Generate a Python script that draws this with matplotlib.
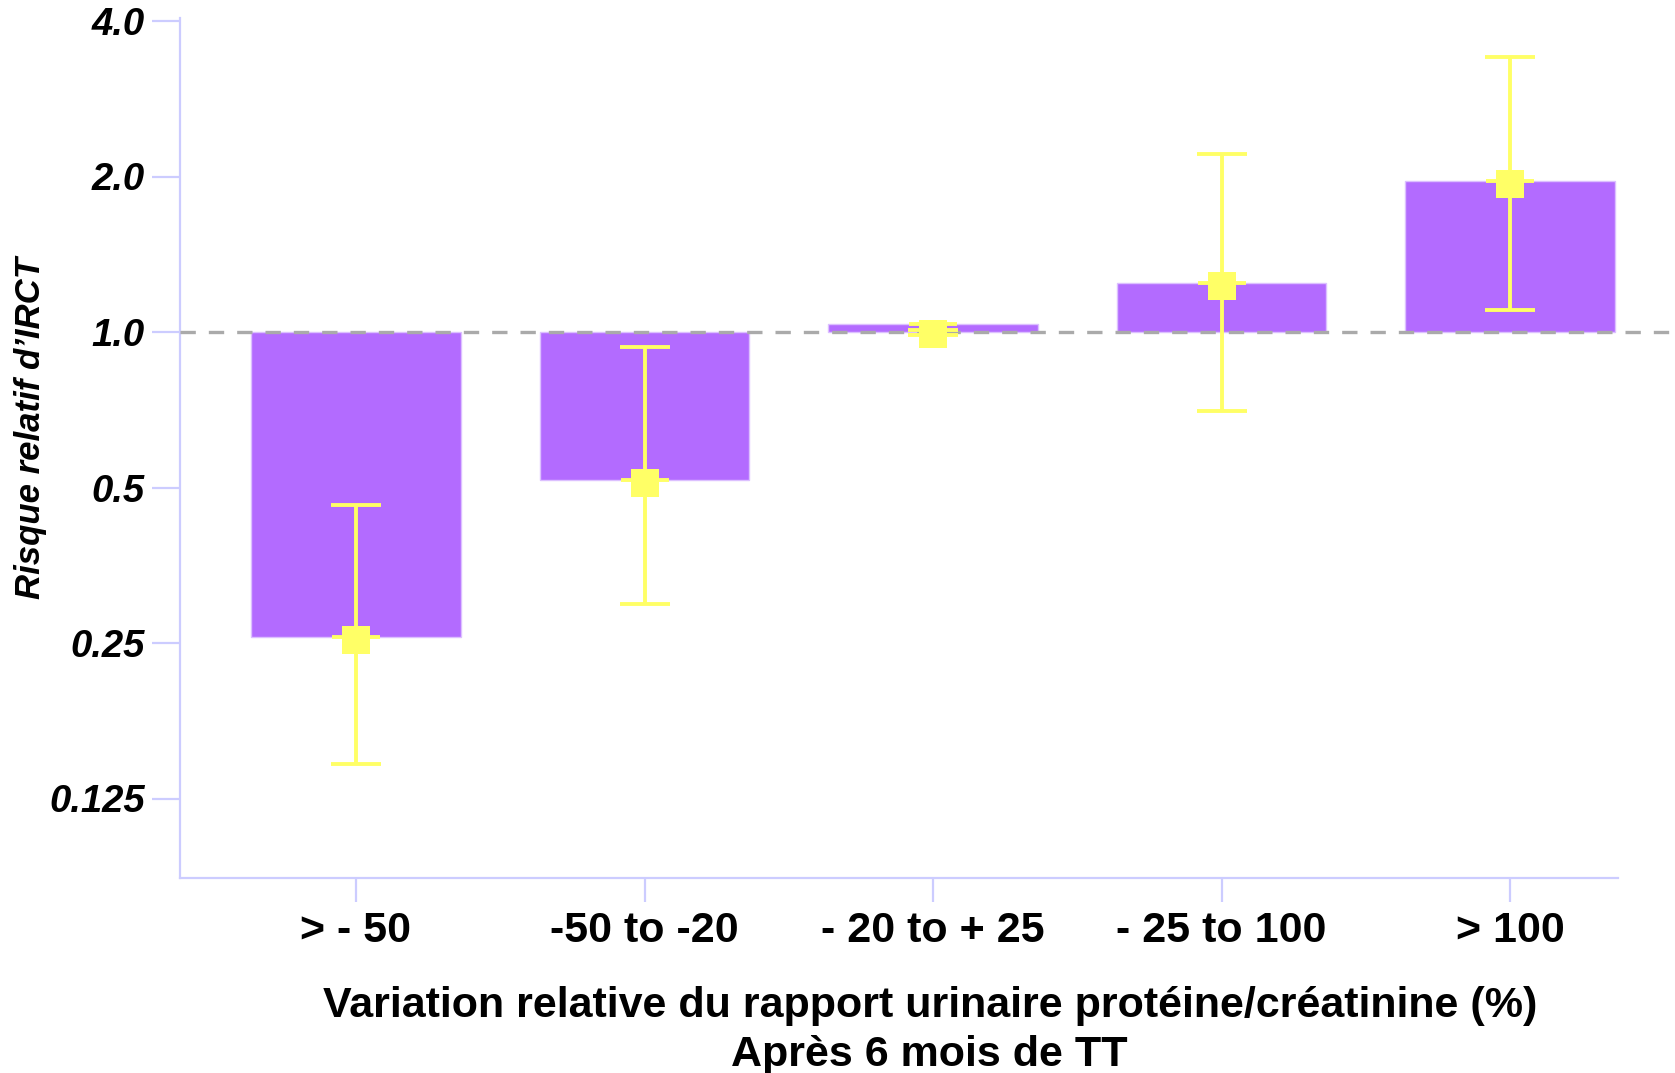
import matplotlib
matplotlib.use("Agg")
import matplotlib.pyplot as plt
import numpy as np

# ---- data ----
categories = ["> - 50", "-50 to -20", "- 20 to + 25", "- 25 to 100", "> 100"]
rr_bar = [0.257, 0.518, 1.037, 1.244, 1.96]
rr_point = [0.253, 0.51, 0.99, 1.23, 1.93]
ci_low = [0.146, 0.297, 0.985, 0.702, 1.103]
ci_high = [0.462, 0.934, 1.01, 2.21, 3.41]
yticks = [0.125, 0.25, 0.5, 1.0, 2.0, 4.0]
yticklabels = ["0.125", "0.25", "0.5", "1.0", "2.0", "4.0"]
ylabel = "Risque relatif d\u2019IRCT"
xlabel_1 = "Variation relative du rapport urinaire prot\u00e9ine/cr\u00e9atinine (%)"
xlabel_2 = "Apr\u00e8s 6 mois de TT"

PURPLE = "#B36BFF"
YELLOW = "#FFFF66"
SPINE = "#CCCCFF"
GREY = "#AAAAAA"

plt.rcParams["font.family"] = ["Liberation Sans", "DejaVu Sans"]

W, H = 1675, 1073
fig = plt.figure(figsize=(W / 100, H / 100), dpi=100)
ax = fig.add_axes([180 / W, 1 - 878 / H, 1 - 180 / W, (878 - 18) / H])

x = np.arange(len(categories))
bar_a = np.array(rr_bar)
pt = np.array(rr_point)
lo = np.array(ci_low)
hi = np.array(ci_high)

ax.set_yscale("log", base=2)

ax.bar(x, bar_a - 1, bottom=1, width=0.725, color=PURPLE,
       edgecolor="#DCC0FF", linewidth=1, zorder=2)

ax.axhline(1.0, color=GREY, lw=2.4, dashes=(4.6, 3.9), zorder=3)

ax.errorbar(x, pt, yerr=[pt - lo, hi - pt], fmt="none",
            ecolor=YELLOW, elinewidth=2.8, capsize=18, capthick=2.8, zorder=4)
ax.plot(x, bar_a, ls="none", marker="_", ms=34, mew=2.8, color=YELLOW, zorder=5)
ax.plot(x, pt, ls="none", marker="s", ms=19.5, color=YELLOW, mew=0, zorder=6)

ax.set_xlim((180 - 356) / 288.5, (W - 356) / 288.5)
ax.set_ylim(2 ** ((332 - 878) / 155.5), 2 ** ((332 - 18) / 155.5))

ax.set_yticks(yticks)
ax.set_yticklabels(yticklabels, fontsize=27.5, fontweight="bold", fontstyle="italic")
ax.yaxis.set_minor_locator(matplotlib.ticker.NullLocator())
ax.set_xticks(x)
ax.set_xticklabels(categories, fontsize=31, fontweight="bold")

for s in ["top", "right"]:
    ax.spines[s].set_visible(False)
for s in ["left", "bottom"]:
    ax.spines[s].set_color(SPINE)
    ax.spines[s].set_linewidth(1.6)
ax.spines["bottom"].set_bounds((180 - 356) / 288.5, (1618 - 356) / 288.5)

ax.tick_params(axis="y", length=20, width=1.6, color=SPINE, pad=5.5)
ax.tick_params(axis="x", length=17, width=1.6, color=SPINE, pad=6.5)

fig.text(31 / W, 1 - 428 / H, ylabel, rotation=90, ha="center", va="center",
         fontsize=25, fontweight="bold", fontstyle="italic")
fig.text(930 / W, 1 - 1017 / H, xlabel_1, ha="center", va="baseline",
         fontsize=31, fontweight="bold")
fig.text(929 / W, 1 - 1066 / H, xlabel_2, ha="center", va="baseline",
         fontsize=31, fontweight="bold")

fig.savefig("out.png", dpi=100, facecolor="white")
